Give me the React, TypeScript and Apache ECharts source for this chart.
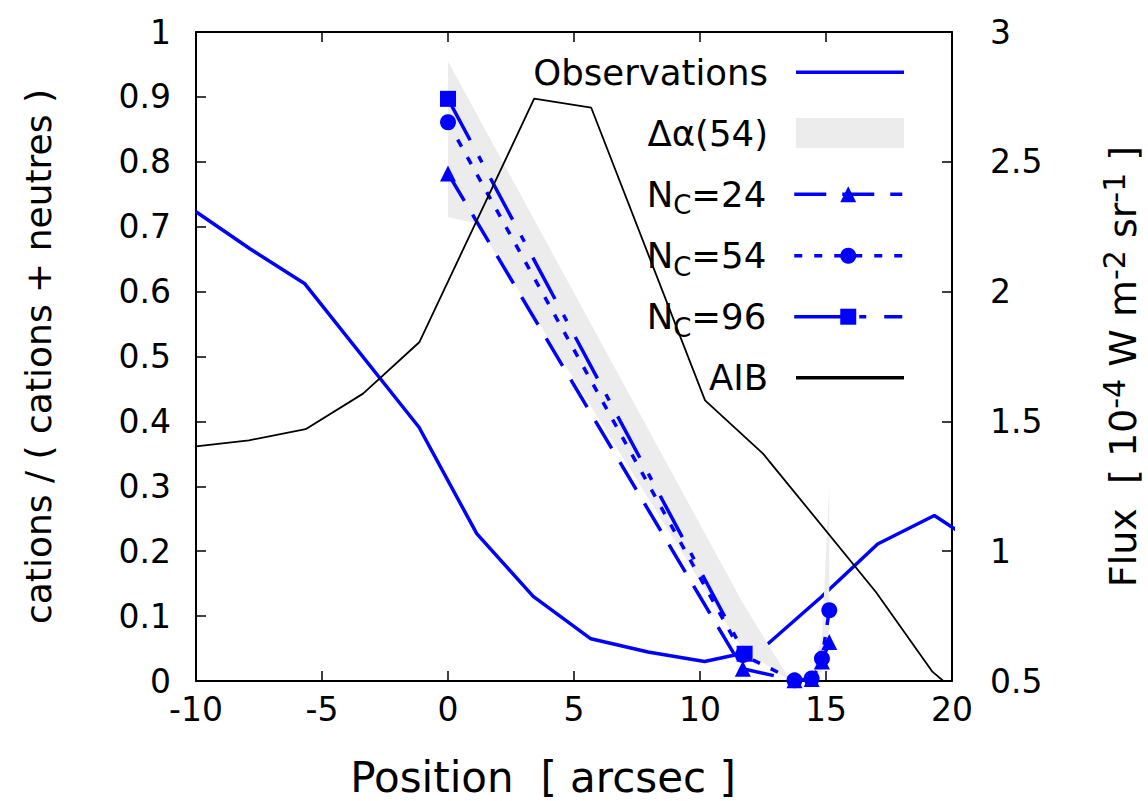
import React, { useEffect, useRef } from "react";
import * as echarts from "echarts";

// ---- data ----
const obsX = [-10, -7.86, -5.68, -1.15, 1.14, 3.38, 5.67, 7.94, 10.18, 12.45, 14.8, 17.05, 19.3, 21.55];
const obsY = [0.723, 0.666, 0.612, 0.391, 0.227, 0.1305, 0.065, 0.0447, 0.03, 0.049, 0.129, 0.211, 0.255, 0.197];

const aibX = [-10, -7.9, -5.65, -3.37, -1.13, 3.42, 5.68, 10.2, 12.5, 16.98, 19.23, 21.5];
const aibY = [1.404, 1.427, 1.47, 1.607, 1.806, 2.743, 2.709, 1.581, 1.376, 0.843, 0.535, 0.35];

const nc24X = [0, 11.7, 13.75, 14.43, 14.84, 15.13];
const nc24Y = [0.782, 0.019, 0.001, 0.003, 0.03, 0.06];
const nc54X = [0, 11.7, 13.75, 14.43, 14.84, 15.13];
const nc54Y = [0.861, 0.04, 0.001, 0.004, 0.0345, 0.109];
const nc96X = [0, 11.77];
const nc96Y = [0.897, 0.042];

const bandHiX = [0, 11.7, 13.6, 14.43, 14.84, 15.13];
const bandHi = [0.955, 0.12, 0.0, 0.01, 0.07, 0.3];
const bandLoX = [0, 1.14, 11.7, 13.6, 14.43, 14.84, 15.13];
const bandLo = [0.715, 0.705, 0.048, 0.0, 0.0, 0.015, 0.08];

const seriesNames = ["Observations", "Δα(54)", "NC=24", "NC=54", "NC=96", "AIB"];

const FONT = "DejaVu Sans";
const BLUE = "#0000ff";
const GREY = "#ececec";

const zip = (xs: number[], ys: number[]) => xs.map((x, i) => [x, ys[i]]);

export default function App() {
  const ref = useRef<HTMLDivElement>(null);
  useEffect(() => {
    document.body.style.margin = "0";
    const chart = echarts.init(ref.current!, undefined, { renderer: "svg" });
    const rowY = [72.3, 133, 194.3, 255.7, 316.7, 377.7];
    const rich = {
      t: { fontFamily: FONT, fontSize: 35.5, lineHeight: 48, color: "#000" },
      e: { fontFamily: FONT, fontSize: 35.5, lineHeight: 48, color: "#000", padding: [0, 23, 0, 0] },
      s: { fontFamily: FONT, fontSize: 26, lineHeight: 26, verticalAlign: "bottom", color: "#000" },
    };
    const fmt = (name: string) => {
      if (name.startsWith("NC=")) return "{t|N}{s|C}{e|" + name.slice(2) + "}";
      return "{e|" + name + "}";
    };
    const legends = seriesNames.map((name, i) => {
      const isLine = i === 0 || i === 5;
      const isBand = i === 1;
      return {
        show: true,
        orient: "horizontal",
        right: 244,
        top: rowY[i] - 18,
        padding: 0,
        itemGap: 0,
        align: "right",
        itemWidth: 108,
        itemHeight: isLine ? 3.5 : isBand ? 30 : 20,
        selectedMode: false,
        data: isLine || isBand ? [{ name, icon: "rect" }] : [name],
        formatter: fmt,
        textStyle: { fontFamily: FONT, fontSize: 35.5, color: "#000", rich },
        lineStyle: { width: 3.5 },
      };
    });
    const axisLine = { show: true, onZero: false, lineStyle: { color: "#000", width: 2 } };
    const axisTick = { show: true, inside: true, length: 10, lineStyle: { color: "#000", width: 1.5 } };
    const labelStyle = { fontFamily: FONT, fontSize: 33, lineHeight: 34, color: "#000" };
    chart.setOption({
      animation: false,
      grid: { left: 196, right: 196, top: 32, bottom: 120, containLabel: false, outerBoundsMode: "none" },
      legend: legends,
      xAxis: [
        {
          type: "value", min: -10, max: 20, interval: 5, position: "bottom",
          axisLine, axisTick, splitLine: { show: false },
          axisLabel: { ...labelStyle, margin: 11 },
          name: "Position  [ arcsec ]", nameLocation: "middle", nameGap: 76,
          nameTextStyle: { fontFamily: FONT, fontSize: 42, lineHeight: 40, color: "#000", padding: [0, 62, 0, 0] },
        },
        {
          type: "value", min: -10, max: 20, interval: 5, position: "top",
          axisLine, axisTick, splitLine: { show: false }, axisLabel: { show: false },
        },
      ],
      yAxis: [
        {
          type: "value", min: 0, max: 1, interval: 0.1, position: "left",
          axisLine, axisTick, splitLine: { show: false },
          axisLabel: { ...labelStyle, margin: 25 },
          name: "cations / ( cations + neutres )", nameLocation: "middle", nameGap: 138, nameRotate: 90,
          nameTextStyle: { fontFamily: FONT, fontSize: 36, lineHeight: 40, color: "#000" },
        },
        {
          type: "value", min: 0.5, max: 3, interval: 0.5, position: "right",
          axisLine, axisTick, splitLine: { show: false },
          axisLabel: { ...labelStyle, margin: 38 },
          name: "Flux  [ 10{p|-4} W m{p|-2} sr{p|-1} ]", nameLocation: "middle", nameGap: 147, nameRotate: 90,
          nameTextStyle: {
            fontFamily: FONT, fontSize: 38, lineHeight: 48, color: "#000", padding: [0, 20, 0, 0],
            rich: { p: { fontFamily: FONT, fontSize: 30, lineHeight: 20, verticalAlign: "top", color: "#000" } },
          },
        },
      ],
      series: [
        {
          name: "Observations", type: "line", xAxisIndex: 0, yAxisIndex: 0, z: 2,
          data: zip(obsX, obsY), symbol: "none", clip: true,
          lineStyle: { color: BLUE, width: 3.5 }, itemStyle: { color: BLUE },
        },
        {
          name: "Δα(54)", type: "custom", xAxisIndex: 0, yAxisIndex: 0, z: 3,
          data: bandHiX.map((x, i) => [x, bandHi[i]]),
          itemStyle: { color: GREY },
          renderItem: (params: any, api: any) => {
            if (params.dataIndex !== 0) return null;
            const top = bandHiX.map((x, i) => api.coord([x, bandHi[i]]));
            const bot = bandLoX.map((x, i) => api.coord([x, bandLo[i]])).reverse();
            return { type: "polygon", shape: { points: top.concat(bot) }, style: { fill: GREY } };
          },
        },
        {
          name: "NC=24", type: "line", xAxisIndex: 0, yAxisIndex: 0, z: 4,
          data: zip(nc24X, nc24Y), symbol: "triangle", symbolSize: 16,
          lineStyle: { color: BLUE, width: 3.5, type: [32, 16] }, itemStyle: { color: BLUE },
        },
        {
          name: "NC=54", type: "line", xAxisIndex: 0, yAxisIndex: 0, z: 4,
          data: zip(nc54X, nc54Y), symbol: "circle", symbolSize: 16,
          lineStyle: { color: BLUE, width: 3.5, type: [8, 12] }, itemStyle: { color: BLUE },
        },
        {
          name: "NC=96", type: "line", xAxisIndex: 0, yAxisIndex: 0, z: 4,
          data: zip(nc96X, nc96Y), symbol: "rect", symbolSize: 16,
          lineStyle: { color: BLUE, width: 3.5, type: [47, 18, 7, 18] }, itemStyle: { color: BLUE },
        },
        {
          name: "AIB", type: "line", xAxisIndex: 0, yAxisIndex: 1, z: 5,
          data: zip(aibX, aibY), symbol: "none", clip: true,
          lineStyle: { color: "#000", width: 1.8 }, itemStyle: { color: "#000" },
        },
      ],
    });
    return () => chart.dispose();
  }, []);
  return <div ref={ref} style={{ width: 1148, height: 801 }} />;
}
